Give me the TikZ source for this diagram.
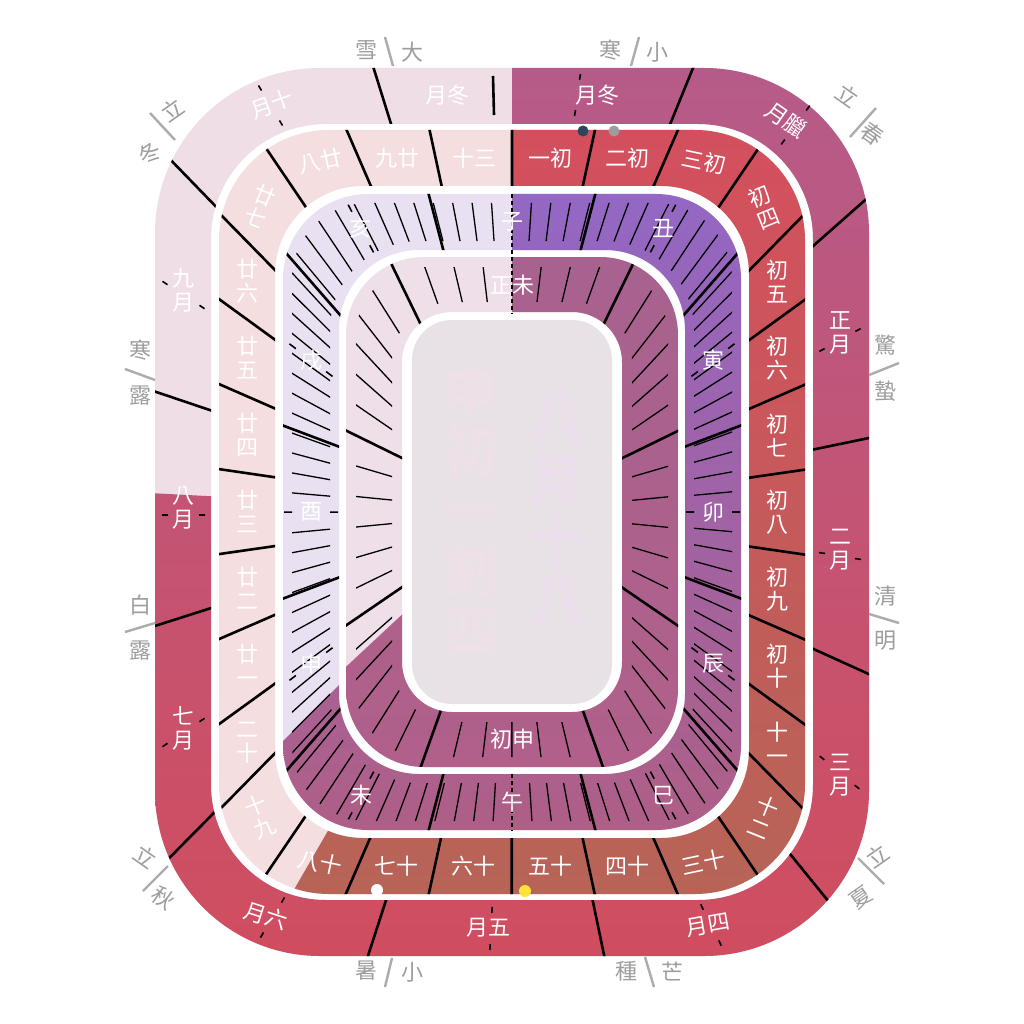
\documentclass[tikz,border=0pt]{standalone}
\usepackage{fontspec}
\newfontfamily\cjk{Noto Sans CJK TC}
\usetikzlibrary{calc,decorations.markings}

\definecolor{nlMonL}{HTML}{EFDEE6}
\definecolor{nlMonT}{HTML}{B65B89}
\definecolor{nlMonB}{HTML}{D04D5F}
\definecolor{nlDayL}{HTML}{F4DEE0}
\definecolor{nlDayT}{HTML}{D44F5E}
\definecolor{nlDayB}{HTML}{B76457}
\definecolor{nlHrL}{HTML}{E9E1F1}
\definecolor{nlHrT}{HTML}{9367C4}
\definecolor{nlHrB}{HTML}{AE5F86}
\definecolor{nlQL}{HTML}{EEDFE8}
\definecolor{nlQT}{HTML}{A8628F}
\definecolor{nlQB}{HTML}{B0608A}
\definecolor{nlBox}{HTML}{E8E2E7}
\definecolor{nlBigA}{HTML}{EEE0E7}
\definecolor{nlBigB}{HTML}{EADFEB}
\definecolor{nlGray}{HTML}{9D9D9D}
\definecolor{nlNavy}{HTML}{2F435A}
\definecolor{nlSun}{HTML}{FFE33B}

% rounded rectangles round the centre (512,512), clockwise / counter-clockwise,
% starting and ending at the top middle
\newcommand\nlcw[3]{[rounded corners=#3pt] (512,512-#2) -- (512+#1,512-#2) -- (512+#1,512+#2) -- (512-#1,512+#2) -- (512-#1,512-#2) -- (512,512-#2)}
\newcommand\nlccw[3]{[rounded corners=#3pt] (512,512-#2) -- (512-#1,512-#2) -- (512-#1,512+#2) -- (512+#1,512+#2) -- (512+#1,512-#2) -- (512,512-#2)}
\newcommand\nlsec[1]{(512,512) -- plot[domain=-90:#1,samples=60] ({512+1500*cos(\x)},{512+1500*sin(\x)}) -- cycle}
\newcommand\nlmarks[3]{\path[decorate,decoration={markings,mark=between positions #2 and 0.999 step #3 with {\coordinate (#1\pgfkeysvalueof{/pgf/decoration/mark info/sequence number});}}]}

\tikzset{nllab/.style={text=white,font=\cjk\fontsize{22}{24}\selectfont,align=center,inner sep=0pt},
         nljq/.style={text=nlGray,font=\cjk\fontsize{22}{24}\selectfont,inner sep=0pt},
         nljqln/.style={draw=nlGray!85,line width=2.4pt},
         nlbig/.style={font=\cjk\bfseries\fontsize{56}{60}\selectfont,align=center,inner sep=0pt},
         nldiv/.style={line width=2.6pt},
         nltk/.style={line width=1.3pt},
         nlmk/.style={line width=1.6pt}}

\begin{document}
\begin{tikzpicture}[x=1pt,y=-1pt]
  \useasboundingbox (0,0) rectangle (1024,1024);
  \fill[white] (0,0) rectangle (1024,1024);
  \coordinate (O) at (512,512);
  % points along the mid lines of the rings
  \nlmarks{dd}{0}{0.033333} \nlcw{265}{354}{99};
  \nlmarks{dl}{0.016667}{0.033333} \nlcw{265}{354}{99};
  \nlmarks{ht}{0}{0.01} \nlcw{201}{290}{82};
  \nlmarks{hb}{0.041667}{0.083333} \nlcw{201}{290}{82};
  \nlmarks{hl}{0}{0.083333} \nlcw{201}{290}{82};
  \nlmarks{qt}{0}{0.02} \nlcw{138}{227}{64};

  % months
  \begin{scope}
    \clip \nlcw{357}{444}{165} \nlccw{301}{388}{115};
    \fill[nlMonL] (0,0) rectangle (1024,1024);
    \begin{scope}
      \clip \nlsec{183};
      \shade[top color=nlMonT,bottom color=nlMonB] (155,68) rectangle (869,956);
    \end{scope}
    \foreach \x/\y in {382/95,682/95,838/224,840/444,840/661,812/881,598/926,377/928,192/835,183/617,183/401,194/184}
      \draw[nldiv] (O) -- ($(O)!1.7!(\x,\y)$);
  \end{scope}
  \draw[nldiv] (493,76) -- (494,115);

  % days
  \begin{scope}
    \clip \nlcw{293}{382}{110} \nlccw{237}{326}{88};
    \fill[nlDayL] (0,0) rectangle (1024,1024);
    \begin{scope}
      \clip \nlsec{120};
      \shade[top color=nlDayT,bottom color=nlDayB] (219,130) rectangle (805,894);
    \end{scope}
    \foreach \i in {1,...,30} \draw[nldiv] (O) -- ($(O)!1.8!(dd\i)$);
  \end{scope}

  % hours
  \begin{scope}
    \clip \nlcw{229}{318}{85} \nlccw{173}{262}{80};
    \fill[nlHrL] (0,0) rectangle (1024,1024);
    \begin{scope}
      \clip \nlsec{135};
      \shade[top color=nlHrT,bottom color=nlHrB] (283,194) rectangle (741,830);
    \end{scope}
    \foreach \i in {1,...,12} \draw[nldiv] (O) -- ($(O)!1.8!(hb\i)$);
    \clip \nlcw{220}{309}{76} \nlccw{182}{271}{89};
    \foreach \i in {1,...,100} {
      \pgfmathtruncatemacro\r{mod(\i-1,25)}
      \ifnum\r>0 \draw[nltk] (O) -- ($(O)!1.8!(ht\i)$); \fi}
  \end{scope}

  % quarters
  \begin{scope}
    \clip \nlcw{166}{255}{78} \nlccw{110}{200}{50};
    \fill[nlQL] (0,0) rectangle (1024,1024);
    \begin{scope}
      \clip \nlsec{137};
      \shade[top color=nlQT,bottom color=nlQB] (346,257) rectangle (678,767);
    \end{scope}
    \foreach \i in {5,11,...,47} \draw[nldiv] (O) -- ($(O)!1.9!(qt\i)$);
    \clip \nlcw{156}{245}{68} \nlccw{120}{210}{60};
    \foreach \i in {2,...,50} {
      \pgfmathtruncatemacro\r{mod(\i+1,6)}
      \ifnum\r>0 \draw[nltk] (O) -- ($(O)!1.9!(qt\i)$); \fi}
  \end{scope}

  \fill[nlBox,rounded corners=40pt] (412,320) rectangle (612,704);
  \node[nlbig,text=nlBigA] (big1) at (470,510) {申\\初\\一\\刻\\四};
  \node[nlbig,text=nlBigB] (big2) at (557,511) {八\\月\\十\\八};

  \draw[nltk,line width=1.6pt,dash pattern=on 4pt off 3pt] (512,194) -- (512,314);
  \draw[nltk,line width=1.6pt,dash pattern=on 4pt off 3pt] (512,774) -- (512,831);

  % labels
  \foreach \x/\y/\r/\t [count=\n] in {447/95/0/月冬,597/95/0/月冬,786/120/-35/月臘,840/333/0/正\\月,840/550/0/二\\月,
      840/775/0/三\\月,708/925/10/月四,488/928/0/月五,266/916/-18/月六,183/728/0/七\\月,183/508/0/八\\月,
      183/290/0/九\\月,272/104/20/月十}
    \node[nllab,rotate=\r] (mo\n) at (\x,\y) {\t};
  \foreach \x/\y in {260/88,281/123,580/77,575/113,808/108,783/142,822/350,858/330,822/553,858/559,
      822/758,857/787,702/907,720/943,492/910,490/947,283/900,262/935,202/720,165/745,165/515,202/515,165/283,202/307}
    \draw[nlmk] ($(\x,\y)!3pt!(O)$) -- ($(\x,\y)!-3pt!(O)$);
  \foreach \i/\t/\r in {1/一初/0,2/二初/0,3/三初/-12,4/初\\四/22,5/初\\五/0,6/初\\六/0,7/初\\七/0,8/初\\八/0,
      9/初\\九/0,10/初\\十/0,11/十\\一/0,12/十\\二/-22,13/三十/12,14/四十/0,15/五十/0,16/六十/0,17/七十/0,
      18/八十/-12,19/十\\九/22,20/二\\十/0,21/廿\\一/0,22/廿\\二/0,23/廿\\三/0,24/廿\\四/0,25/廿\\五/0,
      26/廿\\六/0,27/廿\\七/-22,28/八廿/12,29/九廿/0,30/十三/0}
    \node[nllab,rotate=\r] (dn\i) at (dl\i) {\t};
  \foreach \i in {2,3,4,5,6,8,9,10,11,12}
    \draw[nlmk] ($(hl\i)!19pt!(O)$) -- ($(hl\i)!27pt!(O)$) ($(hl\i)!-19pt!(O)$) -- ($(hl\i)!-27pt!(O)$);
  \foreach \i/\t in {1/子,2/丑,3/寅,4/卯,5/辰,6/巳,7/午,8/未,9/申,10/酉,11/戌,12/亥}
    \node[nllab] (hn\i) at (hl\i) {\t};
  \node[nllab] (qa) at (512,285) {正未};
  \node[nllab] (qb) at (512,739) {初申};

  % sun and moon
  \fill[nlNavy] (583,131) circle (5.5pt);
  \fill[nlGray] (614,131) circle (5.5pt);
  \fill[white] (377,890) circle (6pt);
  \fill[nlSun] (525,891) circle (6pt);

  % solar terms
  \foreach \a/\b/\c/\d in {385/37/393/66,639/37/631/66,876/108/850/137,869/375/899/363,869/614/899/623,
      858/858/884/884,645/957/654/987,392/958/385/987,168/866/143/891,155/623/125/632,155/380/125/369,150/113/175/140}
    \draw[nljqln] (\a,\b) -- (\c,\d);
  \foreach \x/\y/\r/\t [count=\n] in {366/50/0/雪,412/52/0/大,610/50/0/寒,657/52/0/小,848/96/-35/立,872/134/-35/春,
      885/345/0/驚,885/391/0/蟄,885/596/0/清,885/641/0/明,877/856/35/立,861/898/35/夏,626/971/0/種,672/972/0/芒,
      366/971/0/暑,412/972/0/小,146/857/-35/立,163/898/-35/秋,140/605/0/白,140/651/0/露,140/350/0/寒,140/396/0/露,
      172/110/35/立,150/153/35/冬}
    \node[nljq,rotate=\r] (jq\n) at (\x,\y) {\t};
\end{tikzpicture}
\end{document}
